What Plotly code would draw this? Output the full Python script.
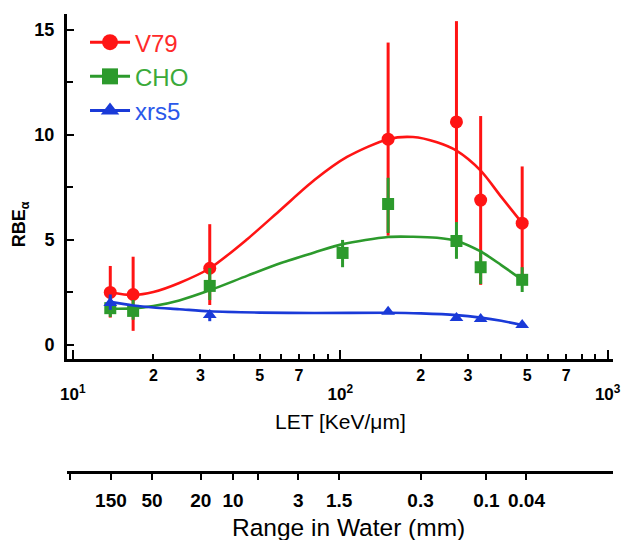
import plotly.graph_objects as go
import math

# ---------------- data ----------------
let_v79 = [13.8, 16.8, 32.5, 151, 272, 335, 479]
rbe_v79 = [2.5, 2.4, 3.65, 9.8, 10.62, 6.9, 5.8]
up_v79 = [1.26, 1.8, 2.1, 4.6, 4.8, 4.0, 2.7]
dn_v79 = [1.2, 1.73, 1.75, 4.6, 4.8, 4.04, 2.5]

let_cho = [13.8, 16.8, 32.5, 102, 151, 272, 335, 479]
rbe_cho = [1.75, 1.62, 2.81, 4.38, 6.71, 4.95, 3.7, 3.1]
up_cho = [0.55, 0.52, 0.85, 0.62, 1.25, 0.9, 0.82, 0.6]
dn_cho = [0.42, 0.42, 0.67, 0.68, 1.38, 0.85, 0.8, 0.58]

let_xrs = [13.8, 32.5, 151, 272, 335, 479]
rbe_xrs = [2.0, 1.43, 1.58, 1.28, 1.23, 0.95]
up_xrs = [0.4, 0.15, 0, 0, 0, 0]
dn_xrs = [0.33, 0.3, 0, 0, 0, 0]

# fitted curves as drawn in the figure
curve_let_v79 = [13.8, 16.8, 20, 25, 32.5, 45, 60, 80, 106, 151, 187, 230, 272, 335, 400, 479]
curve_v79 = [2.5, 2.38, 2.52, 2.95, 3.65, 5.05, 6.45, 7.85, 8.95, 9.8, 9.9, 9.65, 9.25, 8.3, 7.05, 5.8]
curve_let_cho = [13.8, 16.8, 20, 25, 32.5, 45, 60, 80, 102, 151, 187, 230, 272, 335, 400, 479]
curve_cho = [1.72, 1.74, 1.85, 2.12, 2.6, 3.3, 3.9, 4.4, 4.8, 5.14, 5.15, 5.1, 4.95, 4.45, 3.8, 3.1]
curve_let_xrs = [13.8, 16.8, 20, 25, 32.5, 50, 80, 151, 200, 272, 335, 400, 479]
curve_xrs = [2.05, 1.88, 1.78, 1.7, 1.6, 1.54, 1.52, 1.53, 1.5, 1.42, 1.3, 1.15, 0.95]

# LET axis ticks
let_tickvals = [20, 30, 50, 70, 200, 300, 500, 700]
let_ticktext = ["2", "3", "5", "7", "2", "3", "5", "7"]
let_minor = [40, 60, 80, 90, 400, 600, 800, 900]
decades = [10, 100, 1000]
decade_text = ["10<sup>1</sup>", "10<sup>2</sup>", "10<sup>3</sup>"]

# Range in water axis (positions on the LET scale)
range_tickvals = [13.88, 19.77, 30.1, 39.7, 69.6, 99.1, 199.6, 352, 497]
range_ticktext = ["150", "50", "20", "10", "3", "1.5", "0.3", "0.1", "0.04"]
range_minor = [9.74, 49.3]

series_names = ["V79", "CHO", "xrs5"]
RED = "#ff1414"
GREEN = "#2c9a2c"
BLUE = "#1a3ad8"
TXT = ["#ff2a2a", "#3aaa3a", "#2a58ea"]

FONT = "Liberation Sans, Arial, sans-serif"

fig = go.Figure()

def add_series(cx, cy, px, py, up, dn, color, symbol, size):
    fig.add_trace(go.Scatter(x=cx, y=cy, mode="lines", line=dict(color=color, width=2.6, shape="spline", smoothing=0.8),
                             showlegend=False, hoverinfo="skip"))
    fig.add_trace(go.Scatter(x=px, y=py, mode="markers",
                             marker=dict(color=color, symbol=symbol, size=size, line=dict(width=0)),
                             error_y=dict(type="data", symmetric=False, array=up, arrayminus=dn,
                                          color=color, thickness=3, width=0),
                             showlegend=False))

add_series(curve_let_v79, curve_v79, let_v79, rbe_v79, up_v79, dn_v79, RED, "circle", 13)
add_series(curve_let_cho, curve_cho, let_cho, rbe_cho, up_cho, dn_cho, GREEN, "square", 12)
add_series(curve_let_xrs, curve_xrs, let_xrs, rbe_xrs, up_xrs, dn_xrs, BLUE, "triangle-up", 12)

# legend entries
for name, col, sym, tcol in zip(series_names, [RED, GREEN, BLUE], ["circle", "square", "triangle-up"], TXT):
    fig.add_trace(go.Scatter(x=[None], y=[None], mode="lines+markers", name=f"<span style='color:{tcol}'>{name}</span>",
                             line=dict(color=col, width=3), marker=dict(color=col, symbol=sym, size=16)))

# invisible traces to attach the extra x axes
fig.add_trace(go.Scatter(x=[None], y=[None], xaxis="x2", yaxis="y", showlegend=False))
fig.add_trace(go.Scatter(x=[None], y=[None], xaxis="x3", yaxis="y", showlegend=False))

xr = [0.978, 3.02]
fig.update_layout(
    width=622, height=540,
    margin=dict(l=67, r=9, t=14, b=60, autoexpand=False),
    paper_bgcolor="white", plot_bgcolor="white",
    font=dict(family=FONT, color="black"),
    showlegend=True,
    legend=dict(x=0.033, y=0.987, xanchor="left", yanchor="top", bgcolor="rgba(0,0,0,0)",
                font=dict(size=24, family=FONT), itemwidth=40, tracegroupgap=0),
    xaxis=dict(type="log", range=xr, domain=[0, 1], anchor="y", automargin=False,
               showline=True, linecolor="black", linewidth=3, mirror=False,
               showgrid=False, zeroline=False,
               ticks="inside", ticklen=5, tickwidth=2, tickcolor="black",
               tickvals=let_tickvals, ticktext=let_ticktext,
               tickfont=dict(size=16, family=FONT, color="black", weight="bold"),
               minor=dict(tickvals=let_minor, ticks="inside", ticklen=5, tickwidth=2, tickcolor="black", showgrid=False)),
    xaxis3=dict(type="log", range=xr, overlaying="x", anchor="y", side="bottom", automargin=False,
                showline=False, showgrid=False, zeroline=False,
                ticks="inside", ticklen=9, tickwidth=2, tickcolor="black",
                tickvals=decades, ticktext=decade_text, ticklabelstandoff=23,
                tickfont=dict(size=17, family=FONT, color="black", weight="bold")),
    xaxis2=dict(type="log", range=xr, overlaying="x", anchor="free", position=0.0172, side="bottom", automargin=False,
                showline=True, linecolor="black", linewidth=3, showgrid=False, zeroline=False,
                ticks="outside", ticklen=6, tickwidth=2, tickcolor="black",
                tickvals=range_tickvals, ticktext=range_ticktext, ticklabelstandoff=4,
                tickfont=dict(size=19, family=FONT, color="black", weight="bold"),
                minor=dict(tickvals=range_minor, ticks="outside", ticklen=6, tickwidth=2, tickcolor="black", showgrid=False)),
    yaxis=dict(range=[-0.67, 15.76], domain=[0.2597, 1], anchor="x", automargin=False,
               showline=True, linecolor="black", linewidth=3, showgrid=False, zeroline=False,
               ticks="inside", ticklen=7, tickwidth=2, tickcolor="black",
               tickvals=[0, 5, 10, 15], ticklabelstandoff=6,
               tickfont=dict(size=18, family=FONT, color="black", weight="bold"),
               minor=dict(tickvals=[2.5, 7.5, 12.5], ticks="inside", ticklen=6, tickwidth=2, tickcolor="black", showgrid=False)),
)

annotations = []
annotations.append(dict(x=0.5, y=0.1266, xref="paper", yref="paper", text="LET [KeV/μm]", showarrow=False,
                        font=dict(size=21, family=FONT, color="black"), xanchor="center", yanchor="middle"))
annotations.append(dict(x=0.515, y=-0.101, xref="paper", yref="paper", text="Range in Water (mm)", showarrow=False,
                        font=dict(size=24.5, family=FONT, color="black"), xanchor="center", yanchor="middle"))
annotations.append(dict(x=-0.086, y=0.549, xref="paper", yref="paper", text="RBE<sub>α</sub>", showarrow=False,
                        textangle=-90, font=dict(size=18, family=FONT, color="black", weight="bold"),
                        xanchor="center", yanchor="middle"))
fig.update_layout(annotations=annotations)

fig.write_html("out.html")
